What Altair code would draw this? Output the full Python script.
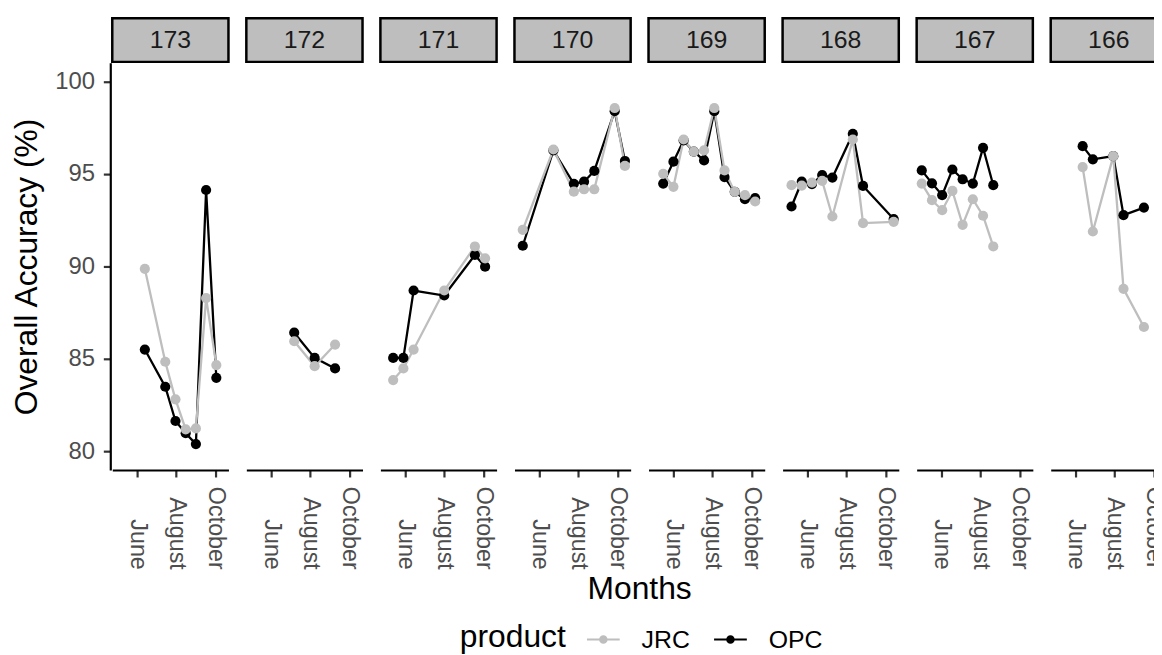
import altair as alt
import pandas as pd

FONT = "Liberation Sans"

panels = ["173", "172", "171", "170", "169", "168", "167", "166"]

dates_173 = ["2016-06-13", "2016-07-15", "2016-07-31", "2016-08-16", "2016-09-01", "2016-09-17", "2016-10-03"]
jrc_173 = [89.87, 84.85, 82.82, 81.20, 81.25, 88.29, 84.67]
opc_173 = [85.51, 83.50, 81.65, 80.99, 80.40, 94.13, 83.98]

dates_172 = ["2016-07-07", "2016-08-08", "2016-09-09"]
jrc_172 = [85.96, 84.61, 85.78]
opc_172 = [86.42, 85.06, 84.49]

dates_171 = ["2016-05-13", "2016-05-29", "2016-06-14", "2016-08-01", "2016-09-18", "2016-10-04"]
jrc_171 = [83.86, 84.49, 85.51, 88.70, 91.08, 90.44]
opc_171 = [85.06, 85.06, 88.70, 88.43, 90.62, 89.99]

dates_170 = ["2016-05-06", "2016-06-23", "2016-07-25", "2016-08-10", "2016-08-26", "2016-09-27", "2016-10-13"]
jrc_170 = [91.98, 96.32, 94.04, 94.17, 94.17, 98.56, 95.43]
opc_170 = [91.12, 96.27, 94.47, 94.58, 95.16, 98.39, 95.70]

dates_169 = ["2016-05-16", "2016-06-01", "2016-06-17", "2016-07-03", "2016-07-19", "2016-08-04", "2016-08-20", "2016-09-05", "2016-09-21", "2016-10-07"]
jrc_169 = [95.01, 94.30, 96.86, 96.20, 96.27, 98.56, 95.19, 94.03, 93.85, 93.51]
opc_169 = [94.48, 95.66, 96.81, 96.20, 95.73, 98.39, 94.83, 94.03, 93.63, 93.69]

dates_168 = ["2016-05-07", "2016-05-23", "2016-06-08", "2016-06-24", "2016-07-10", "2016-08-11", "2016-08-27", "2016-10-14"]
jrc_168 = [94.39, 94.37, 94.53, 94.62, 92.70, 96.86, 92.34, 92.41]
opc_168 = [93.24, 94.58, 94.45, 94.94, 94.80, 97.17, 94.35, 92.56]

dates_167 = ["2016-05-01", "2016-05-17", "2016-06-02", "2016-06-18", "2016-07-04", "2016-07-20", "2016-08-05", "2016-08-21"]
jrc_167 = [94.48, 93.58, 93.04, 94.08, 92.25, 93.63, 92.74, 91.08]
opc_167 = [95.19, 94.49, 93.85, 95.24, 94.71, 94.48, 96.41, 94.39]

dates_166 = ["2016-06-12", "2016-06-28", "2016-07-30", "2016-08-15", "2016-09-16"]
jrc_166 = [95.37, 91.89, 95.96, 88.79, 86.73]
opc_166 = [96.50, 95.79, 95.96, 92.77, 93.18]

series = {
    "173": (dates_173, jrc_173, opc_173),
    "172": (dates_172, jrc_172, opc_172),
    "171": (dates_171, jrc_171, opc_171),
    "170": (dates_170, jrc_170, opc_170),
    "169": (dates_169, jrc_169, opc_169),
    "168": (dates_168, jrc_168, opc_168),
    "167": (dates_167, jrc_167, opc_167),
    "166": (dates_166, jrc_166, opc_166),
}

rows = []
for p in panels:
    d, j, o = series[p]
    first = True
    for prod, vals in (("OPC", o), ("JRC", j)):
        for dd, v in zip(d, vals):
            rows.append({"panel": p, "date": dd + "T00:00:00", "product": prod,
                         "acc": v, "first": first})
            first = False
df = pd.DataFrame(rows)

W, H = 117, 410
STRIP_H = 44

x_enc = alt.X(
    "date:T",
    scale=alt.Scale(domain=[alt.DateTime(year=2016, month=4, date=23),
                            alt.DateTime(year=2016, month=10, date=22)]),
    axis=alt.Axis(
        title=None,
        values=[alt.DateTime(year=2016, month=6, date=1),
                alt.DateTime(year=2016, month=8, date=1),
                alt.DateTime(year=2016, month=10, date=1)],
        format="%B", labelAngle=90, labelAlign="right", labelBaseline="middle",
        labelPadding=93, labelFlush=False, labelOverlap=False, grid=False,
    ),
)
y_enc = alt.Y(
    "acc:Q",
    scale=alt.Scale(domain=[79, 101], nice=False, zero=False),
    axis=alt.Axis(values=[80, 85, 90, 95, 100], title="Overall Accuracy (%)",
                  grid=False, labelPadding=9, titlePadding=11),
)
legend = alt.Legend(
    title="product", orient="none", legendX=350, legendY=563,
    direction="horizontal", titleOrient="left",
    symbolType="M-1,0H1M0.2,0A0.2,0.2,0,1,1,-0.2,0A0.2,0.2,0,1,1,0.2,0M0.1,0A0.1,0.1,0,1,1,-0.1,0A0.1,0.1,0,1,1,0.1,0",
    symbolSize=1089, symbolStrokeWidth=2,
    labelFontSize=25, titleFontSize=32, labelFont=FONT, titleFont=FONT,
    labelColor="black", titleColor="black", titleFontWeight="normal",
    labelOffset=21, columnPadding=20, titlePadding=20,
)
color_enc = alt.Color(
    "product:N",
    scale=alt.Scale(domain=["JRC", "OPC"], range=["#BEBEBE", "#000000"]),
    legend=legend,
)

base = alt.Chart(df)

strip = base.transform_filter("datum.first").mark_rect(
    fill="#BEBEBE", stroke="black", strokeWidth=2.5
).encode(x=alt.value(0), x2=alt.value(W), y=alt.value(-STRIP_H - 1), y2=alt.value(-1))

strip_text = base.transform_filter("datum.first").mark_text(
    fontSize=25, font=FONT, color="#1A1A1A", baseline="middle", align="center"
).encode(x=alt.value(W / 2), y=alt.value(-STRIP_H / 2 - 1), text="panel:N")

lines = base.mark_line(strokeWidth=2.3).encode(x=x_enc, y=y_enc, color=color_enc)
points = base.mark_circle(size=105, opacity=1).encode(x=x_enc, y=y_enc, color=color_enc)

chart = alt.layer(strip, strip_text, lines, points).properties(
    width=W, height=H
).facet(
    column=alt.Column(
        "panel:N", sort=panels,
        header=alt.Header(labels=False, title="Months", titleOrient="bottom",
                          titleFontSize=32, titleFont=FONT, titleColor="black",
                          titleFontWeight="normal", titlePadding=-5,
                          labelPadding=0),
    ),
    spacing=14,
).properties(
    autosize=alt.AutoSizeParams(type="none"),
    padding={"left": 105, "top": 53, "right": 1049, "bottom": 594},
).configure_view(
    stroke=None
).configure_axis(
    domainColor="black", domainWidth=2.2, tickColor="#333333", tickWidth=2.2,
    tickSize=7, labelColor="#4D4D4D", labelFont=FONT, titleFont=FONT,
    titleColor="black", titleFontWeight="normal",
).configure_axisX(
    labelFontSize=23.5,
).configure_axisY(
    labelFontSize=24, titleFontSize=32,
)

chart.save("out.html", embed_options={"renderer": "svg", "actions": False})
